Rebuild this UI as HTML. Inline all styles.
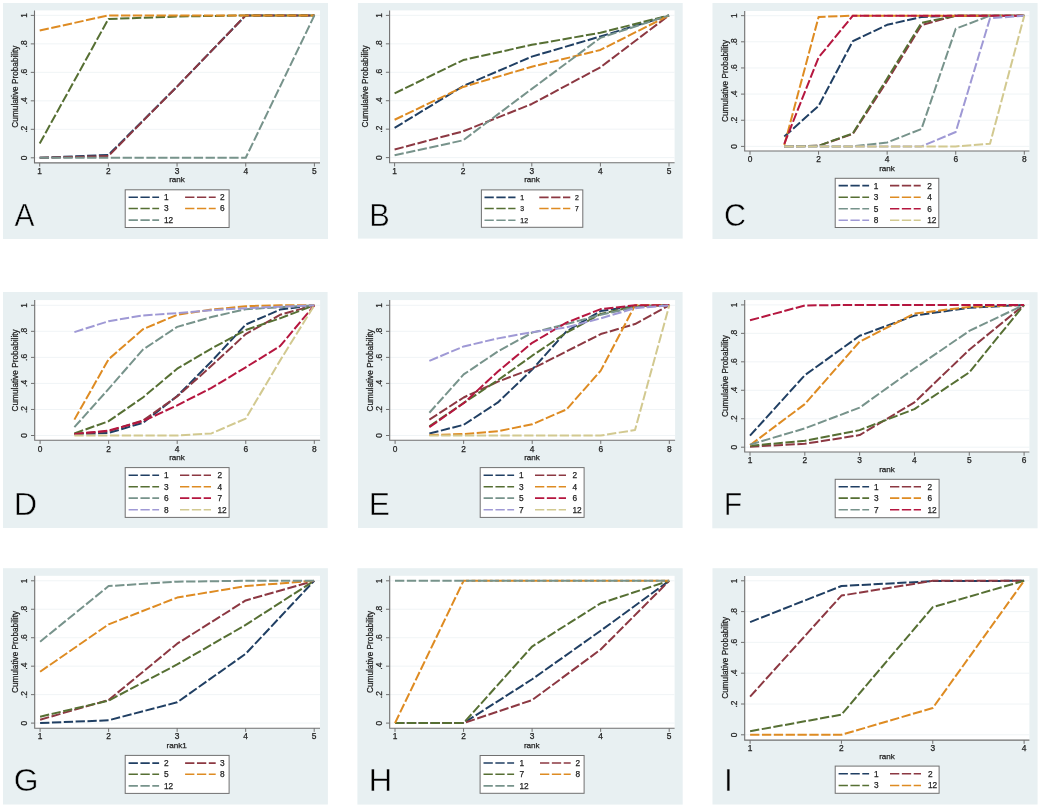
<!DOCTYPE html>
<html><head><meta charset="utf-8"><title>Cumulative ranking plots</title>
<style>
html,body{margin:0;padding:0;background:#fff;}
svg{display:block;filter:blur(0.55px);}
text{font-family:"Liberation Sans", sans-serif;stroke:#1e1e1e;stroke-width:0.25px;}
</style></head>
<body>
<svg width="1040" height="807" viewBox="0 0 1040 807">
<rect width="1040" height="807" fill="#fff"/>
<rect x="3" y="3" width="325.00" height="236.00" fill="#E8F0F2"/>
<rect x="34.5" y="10.4" width="285.50" height="152.50" fill="#fff"/>
<line x1="34.5" y1="157.80" x2="320" y2="157.80" stroke="#EEF3F5" stroke-width="0.9"/>
<line x1="34.5" y1="129.32" x2="320" y2="129.32" stroke="#EEF3F5" stroke-width="0.9"/>
<line x1="34.5" y1="100.84" x2="320" y2="100.84" stroke="#EEF3F5" stroke-width="0.9"/>
<line x1="34.5" y1="72.36" x2="320" y2="72.36" stroke="#EEF3F5" stroke-width="0.9"/>
<line x1="34.5" y1="43.88" x2="320" y2="43.88" stroke="#EEF3F5" stroke-width="0.9"/>
<line x1="34.5" y1="15.40" x2="320" y2="15.40" stroke="#EEF3F5" stroke-width="0.9"/>
<polyline points="39.70,157.80 108.38,154.95 177.05,86.60 245.72,15.40 314.40,15.40" fill="none" stroke="#203F63" stroke-width="2.0" stroke-dasharray="9.3 2.55" stroke-linejoin="round"/>
<polyline points="39.70,157.80 108.38,156.09 177.05,86.60 245.72,15.40 314.40,15.40" fill="none" stroke="#8C3842" stroke-width="2.0" stroke-dasharray="9.3 2.55" stroke-linejoin="round"/>
<polyline points="39.70,143.56 108.38,18.96 177.05,16.54 245.72,15.40 314.40,15.40" fill="none" stroke="#566F33" stroke-width="2.0" stroke-dasharray="9.3 2.55" stroke-linejoin="round"/>
<polyline points="39.70,30.49 108.38,15.40 177.05,15.40 245.72,15.40 314.40,15.40" fill="none" stroke="#DE8B22" stroke-width="2.0" stroke-dasharray="9.3 2.55" stroke-linejoin="round"/>
<polyline points="39.70,157.80 108.38,157.80 177.05,157.80 245.72,157.80 314.40,15.40" fill="none" stroke="#77938B" stroke-width="2.0" stroke-dasharray="9.3 2.55" stroke-linejoin="round"/>
<path d="M34.5,10.4 V162.9 H320" fill="none" stroke="#707070" stroke-width="1.1"/>
<line x1="30.8" y1="157.80" x2="34.5" y2="157.80" stroke="#707070" stroke-width="1"/>
<text transform="translate(27.10,157.80) rotate(-90)" text-anchor="middle" font-size="8.4" fill="#1e1e1e">0</text>
<line x1="30.8" y1="129.32" x2="34.5" y2="129.32" stroke="#707070" stroke-width="1"/>
<text transform="translate(27.10,129.32) rotate(-90)" text-anchor="middle" font-size="8.4" fill="#1e1e1e">.2</text>
<line x1="30.8" y1="100.84" x2="34.5" y2="100.84" stroke="#707070" stroke-width="1"/>
<text transform="translate(27.10,100.84) rotate(-90)" text-anchor="middle" font-size="8.4" fill="#1e1e1e">.4</text>
<line x1="30.8" y1="72.36" x2="34.5" y2="72.36" stroke="#707070" stroke-width="1"/>
<text transform="translate(27.10,72.36) rotate(-90)" text-anchor="middle" font-size="8.4" fill="#1e1e1e">.6</text>
<line x1="30.8" y1="43.88" x2="34.5" y2="43.88" stroke="#707070" stroke-width="1"/>
<text transform="translate(27.10,43.88) rotate(-90)" text-anchor="middle" font-size="8.4" fill="#1e1e1e">.8</text>
<line x1="30.8" y1="15.40" x2="34.5" y2="15.40" stroke="#707070" stroke-width="1"/>
<text transform="translate(27.10,15.40) rotate(-90)" text-anchor="middle" font-size="8.4" fill="#1e1e1e">1</text>
<line x1="39.70" y1="162.9" x2="39.70" y2="166.6" stroke="#707070" stroke-width="1"/>
<text x="39.70" y="173.8" text-anchor="middle" font-size="8.4" fill="#1e1e1e">1</text>
<line x1="108.38" y1="162.9" x2="108.38" y2="166.6" stroke="#707070" stroke-width="1"/>
<text x="108.38" y="173.8" text-anchor="middle" font-size="8.4" fill="#1e1e1e">2</text>
<line x1="177.05" y1="162.9" x2="177.05" y2="166.6" stroke="#707070" stroke-width="1"/>
<text x="177.05" y="173.8" text-anchor="middle" font-size="8.4" fill="#1e1e1e">3</text>
<line x1="245.72" y1="162.9" x2="245.72" y2="166.6" stroke="#707070" stroke-width="1"/>
<text x="245.72" y="173.8" text-anchor="middle" font-size="8.4" fill="#1e1e1e">4</text>
<line x1="314.40" y1="162.9" x2="314.40" y2="166.6" stroke="#707070" stroke-width="1"/>
<text x="314.40" y="173.8" text-anchor="middle" font-size="8.4" fill="#1e1e1e">5</text>
<text transform="translate(17.70,86.60) rotate(-90)" text-anchor="middle" font-size="8.25" fill="#1e1e1e">Cumulative Probability</text>
<text x="177" y="182.20" text-anchor="middle" font-size="8.1" fill="#1e1e1e">rank</text>
<rect x="125.2" y="189.8" width="103.90" height="37.70" fill="#fff" stroke="#707070" stroke-width="1"/>
<line x1="128.6" y1="197.2" x2="159.1" y2="197.2" stroke="#203F63" stroke-width="1.6" stroke-dasharray="9.3 2.55"/>
<text x="164.0" y="200.10" font-size="8.3" fill="#1e1e1e">1</text>
<line x1="185.1" y1="197.2" x2="215.7" y2="197.2" stroke="#8C3842" stroke-width="1.6" stroke-dasharray="9.3 2.55"/>
<text x="220.0" y="200.10" font-size="8.3" fill="#1e1e1e">2</text>
<line x1="128.6" y1="208.5" x2="159.1" y2="208.5" stroke="#566F33" stroke-width="1.6" stroke-dasharray="9.3 2.55"/>
<text x="164.0" y="211.41" font-size="8.3" fill="#1e1e1e">3</text>
<line x1="185.1" y1="208.5" x2="215.7" y2="208.5" stroke="#DE8B22" stroke-width="1.6" stroke-dasharray="9.3 2.55"/>
<text x="220.0" y="211.41" font-size="8.3" fill="#1e1e1e">6</text>
<line x1="128.6" y1="220.1" x2="159.1" y2="220.1" stroke="#77938B" stroke-width="1.6" stroke-dasharray="9.3 2.55"/>
<text x="164.0" y="223.00" font-size="8.3" fill="#1e1e1e">12</text>
<text transform="translate(14.45,226) scale(0.94,1)" font-size="31.8" fill="#000" style="stroke:#E8F0F2;stroke-width:0.5px">A</text>
<rect x="357.9" y="3" width="324.80" height="235.60" fill="#E8F0F2"/>
<rect x="389.6" y="10.4" width="285.00" height="152.40" fill="#fff"/>
<line x1="389.6" y1="157.60" x2="674.6" y2="157.60" stroke="#EEF3F5" stroke-width="0.9"/>
<line x1="389.6" y1="129.16" x2="674.6" y2="129.16" stroke="#EEF3F5" stroke-width="0.9"/>
<line x1="389.6" y1="100.72" x2="674.6" y2="100.72" stroke="#EEF3F5" stroke-width="0.9"/>
<line x1="389.6" y1="72.28" x2="674.6" y2="72.28" stroke="#EEF3F5" stroke-width="0.9"/>
<line x1="389.6" y1="43.84" x2="674.6" y2="43.84" stroke="#EEF3F5" stroke-width="0.9"/>
<line x1="389.6" y1="15.40" x2="674.6" y2="15.40" stroke="#EEF3F5" stroke-width="0.9"/>
<polyline points="394.60,127.88 463.20,86.07 531.80,56.64 600.40,36.45 669.00,15.40" fill="none" stroke="#203F63" stroke-width="2.0" stroke-dasharray="9.3 2.55" stroke-linejoin="round"/>
<polyline points="394.60,149.49 463.20,131.29 531.80,103.99 600.40,67.30 669.00,15.40" fill="none" stroke="#8C3842" stroke-width="2.0" stroke-dasharray="9.3 2.55" stroke-linejoin="round"/>
<polyline points="394.60,93.33 463.20,60.05 531.80,44.84 600.40,32.75 669.00,15.40" fill="none" stroke="#566F33" stroke-width="2.0" stroke-dasharray="9.3 2.55" stroke-linejoin="round"/>
<polyline points="394.60,119.77 463.20,86.93 531.80,66.73 600.40,49.95 669.00,15.40" fill="none" stroke="#DE8B22" stroke-width="2.0" stroke-dasharray="9.3 2.55" stroke-linejoin="round"/>
<polyline points="394.60,155.32 463.20,140.25 531.80,88.92 600.40,37.87 669.00,15.40" fill="none" stroke="#77938B" stroke-width="2.0" stroke-dasharray="9.3 2.55" stroke-linejoin="round"/>
<path d="M389.6,10.4 V162.8 H674.6" fill="none" stroke="#707070" stroke-width="1.1"/>
<line x1="385.90000000000003" y1="157.60" x2="389.6" y2="157.60" stroke="#707070" stroke-width="1"/>
<text transform="translate(382.00,157.60) rotate(-90)" text-anchor="middle" font-size="8.4" fill="#1e1e1e">0</text>
<line x1="385.90000000000003" y1="129.16" x2="389.6" y2="129.16" stroke="#707070" stroke-width="1"/>
<text transform="translate(382.00,129.16) rotate(-90)" text-anchor="middle" font-size="8.4" fill="#1e1e1e">.2</text>
<line x1="385.90000000000003" y1="100.72" x2="389.6" y2="100.72" stroke="#707070" stroke-width="1"/>
<text transform="translate(382.00,100.72) rotate(-90)" text-anchor="middle" font-size="8.4" fill="#1e1e1e">.4</text>
<line x1="385.90000000000003" y1="72.28" x2="389.6" y2="72.28" stroke="#707070" stroke-width="1"/>
<text transform="translate(382.00,72.28) rotate(-90)" text-anchor="middle" font-size="8.4" fill="#1e1e1e">.6</text>
<line x1="385.90000000000003" y1="43.84" x2="389.6" y2="43.84" stroke="#707070" stroke-width="1"/>
<text transform="translate(382.00,43.84) rotate(-90)" text-anchor="middle" font-size="8.4" fill="#1e1e1e">.8</text>
<line x1="385.90000000000003" y1="15.40" x2="389.6" y2="15.40" stroke="#707070" stroke-width="1"/>
<text transform="translate(382.00,15.40) rotate(-90)" text-anchor="middle" font-size="8.4" fill="#1e1e1e">1</text>
<line x1="394.60" y1="162.8" x2="394.60" y2="166.5" stroke="#707070" stroke-width="1"/>
<text x="394.60" y="173.6" text-anchor="middle" font-size="8.4" fill="#1e1e1e">1</text>
<line x1="463.20" y1="162.8" x2="463.20" y2="166.5" stroke="#707070" stroke-width="1"/>
<text x="463.20" y="173.6" text-anchor="middle" font-size="8.4" fill="#1e1e1e">2</text>
<line x1="531.80" y1="162.8" x2="531.80" y2="166.5" stroke="#707070" stroke-width="1"/>
<text x="531.80" y="173.6" text-anchor="middle" font-size="8.4" fill="#1e1e1e">3</text>
<line x1="600.40" y1="162.8" x2="600.40" y2="166.5" stroke="#707070" stroke-width="1"/>
<text x="600.40" y="173.6" text-anchor="middle" font-size="8.4" fill="#1e1e1e">4</text>
<line x1="669.00" y1="162.8" x2="669.00" y2="166.5" stroke="#707070" stroke-width="1"/>
<text x="669.00" y="173.6" text-anchor="middle" font-size="8.4" fill="#1e1e1e">5</text>
<text transform="translate(368.40,86.50) rotate(-90)" text-anchor="middle" font-size="8.25" fill="#1e1e1e">Cumulative Probability</text>
<text x="532" y="182.30" text-anchor="middle" font-size="8.1" fill="#1e1e1e">rank</text>
<rect x="481.4" y="189.9" width="101.40" height="37.40" fill="#fff" stroke="#707070" stroke-width="1"/>
<line x1="484.5" y1="197.4" x2="515.5" y2="197.4" stroke="#203F63" stroke-width="1.6" stroke-dasharray="9.3 2.55"/>
<text x="520.3" y="199.81" font-size="6.9" fill="#1e1e1e">1</text>
<line x1="539.3" y1="197.4" x2="570.3" y2="197.4" stroke="#8C3842" stroke-width="1.6" stroke-dasharray="9.3 2.55"/>
<text x="575.0" y="199.81" font-size="6.9" fill="#1e1e1e">2</text>
<line x1="484.5" y1="208.5" x2="515.5" y2="208.5" stroke="#566F33" stroke-width="1.6" stroke-dasharray="9.3 2.55"/>
<text x="520.3" y="210.91" font-size="6.9" fill="#1e1e1e">3</text>
<line x1="539.3" y1="208.5" x2="570.3" y2="208.5" stroke="#DE8B22" stroke-width="1.6" stroke-dasharray="9.3 2.55"/>
<text x="575.0" y="210.91" font-size="6.9" fill="#1e1e1e">7</text>
<line x1="484.5" y1="220.2" x2="515.5" y2="220.2" stroke="#77938B" stroke-width="1.6" stroke-dasharray="9.3 2.55"/>
<text x="520.3" y="222.61" font-size="6.9" fill="#1e1e1e">12</text>
<text transform="translate(369.23,226) scale(0.97,1)" font-size="31.8" fill="#000" style="stroke:#E8F0F2;stroke-width:0.5px">B</text>
<rect x="712.5" y="3" width="325.10" height="236.00" fill="#E8F0F2"/>
<rect x="744.7" y="11" width="284.70" height="140.00" fill="#fff"/>
<line x1="744.7" y1="146.40" x2="1029.4" y2="146.40" stroke="#EEF3F5" stroke-width="0.9"/>
<line x1="744.7" y1="120.25" x2="1029.4" y2="120.25" stroke="#EEF3F5" stroke-width="0.9"/>
<line x1="744.7" y1="94.10" x2="1029.4" y2="94.10" stroke="#EEF3F5" stroke-width="0.9"/>
<line x1="744.7" y1="67.95" x2="1029.4" y2="67.95" stroke="#EEF3F5" stroke-width="0.9"/>
<line x1="744.7" y1="41.80" x2="1029.4" y2="41.80" stroke="#EEF3F5" stroke-width="0.9"/>
<line x1="744.7" y1="15.65" x2="1029.4" y2="15.65" stroke="#EEF3F5" stroke-width="0.9"/>
<polyline points="784.29,136.59 818.58,105.87 852.86,41.15 887.15,24.80 921.44,16.96 955.72,15.65 990.01,15.65 1024.30,15.65" fill="none" stroke="#203F63" stroke-width="2.0" stroke-dasharray="9.3 2.55" stroke-linejoin="round"/>
<polyline points="784.29,146.40 818.58,145.75 852.86,133.98 887.15,81.03 921.44,25.19 955.72,15.65 990.01,15.65 1024.30,15.65" fill="none" stroke="#8C3842" stroke-width="2.0" stroke-dasharray="9.3 2.55" stroke-linejoin="round"/>
<polyline points="784.29,146.40 818.58,145.75 852.86,133.33 887.15,78.41 921.44,22.84 955.72,15.65 990.01,15.65 1024.30,15.65" fill="none" stroke="#566F33" stroke-width="2.0" stroke-dasharray="9.3 2.55" stroke-linejoin="round"/>
<polyline points="784.29,145.09 818.58,16.96 852.86,15.65 887.15,15.65 921.44,15.65 955.72,15.65 990.01,15.65 1024.30,15.65" fill="none" stroke="#DE8B22" stroke-width="2.0" stroke-dasharray="9.3 2.55" stroke-linejoin="round"/>
<polyline points="784.29,146.40 818.58,146.40 852.86,146.40 887.15,142.48 921.44,129.01 955.72,28.73 990.01,15.65 1024.30,15.65" fill="none" stroke="#77938B" stroke-width="2.0" stroke-dasharray="9.3 2.55" stroke-linejoin="round"/>
<polyline points="784.29,143.78 818.58,57.49 852.86,15.65 887.15,15.65 921.44,15.65 955.72,15.65 990.01,15.65 1024.30,15.65" fill="none" stroke="#B5163F" stroke-width="2.0" stroke-dasharray="9.3 2.55" stroke-linejoin="round"/>
<polyline points="784.29,146.40 818.58,146.40 852.86,146.40 887.15,146.40 921.44,146.40 955.72,132.02 990.01,18.27 1024.30,15.65" fill="none" stroke="#9F99D5" stroke-width="2.0" stroke-dasharray="9.3 2.55" stroke-linejoin="round"/>
<polyline points="784.29,146.40 818.58,146.40 852.86,146.40 887.15,146.40 921.44,146.40 955.72,146.40 990.01,143.78 1024.30,15.65" fill="none" stroke="#D2C990" stroke-width="2.0" stroke-dasharray="9.3 2.55" stroke-linejoin="round"/>
<path d="M744.7,11 V151 H1029.4" fill="none" stroke="#707070" stroke-width="1.1"/>
<line x1="741.0" y1="146.40" x2="744.7" y2="146.40" stroke="#707070" stroke-width="1"/>
<text transform="translate(736.60,146.40) rotate(-90)" text-anchor="middle" font-size="8.4" fill="#1e1e1e">0</text>
<line x1="741.0" y1="120.25" x2="744.7" y2="120.25" stroke="#707070" stroke-width="1"/>
<text transform="translate(736.60,120.25) rotate(-90)" text-anchor="middle" font-size="8.4" fill="#1e1e1e">.2</text>
<line x1="741.0" y1="94.10" x2="744.7" y2="94.10" stroke="#707070" stroke-width="1"/>
<text transform="translate(736.60,94.10) rotate(-90)" text-anchor="middle" font-size="8.4" fill="#1e1e1e">.4</text>
<line x1="741.0" y1="67.95" x2="744.7" y2="67.95" stroke="#707070" stroke-width="1"/>
<text transform="translate(736.60,67.95) rotate(-90)" text-anchor="middle" font-size="8.4" fill="#1e1e1e">.6</text>
<line x1="741.0" y1="41.80" x2="744.7" y2="41.80" stroke="#707070" stroke-width="1"/>
<text transform="translate(736.60,41.80) rotate(-90)" text-anchor="middle" font-size="8.4" fill="#1e1e1e">.8</text>
<line x1="741.0" y1="15.65" x2="744.7" y2="15.65" stroke="#707070" stroke-width="1"/>
<text transform="translate(736.60,15.65) rotate(-90)" text-anchor="middle" font-size="8.4" fill="#1e1e1e">1</text>
<line x1="750.00" y1="151" x2="750.00" y2="154.7" stroke="#707070" stroke-width="1"/>
<text x="750.00" y="162.2" text-anchor="middle" font-size="8.4" fill="#1e1e1e">0</text>
<line x1="818.58" y1="151" x2="818.58" y2="154.7" stroke="#707070" stroke-width="1"/>
<text x="818.58" y="162.2" text-anchor="middle" font-size="8.4" fill="#1e1e1e">2</text>
<line x1="887.15" y1="151" x2="887.15" y2="154.7" stroke="#707070" stroke-width="1"/>
<text x="887.15" y="162.2" text-anchor="middle" font-size="8.4" fill="#1e1e1e">4</text>
<line x1="955.72" y1="151" x2="955.72" y2="154.7" stroke="#707070" stroke-width="1"/>
<text x="955.72" y="162.2" text-anchor="middle" font-size="8.4" fill="#1e1e1e">6</text>
<line x1="1024.30" y1="151" x2="1024.30" y2="154.7" stroke="#707070" stroke-width="1"/>
<text x="1024.30" y="162.2" text-anchor="middle" font-size="8.4" fill="#1e1e1e">8</text>
<text transform="translate(728.00,81.03) rotate(-90)" text-anchor="middle" font-size="8.25" fill="#1e1e1e">Cumulative Probability</text>
<text x="887" y="170.90" text-anchor="middle" font-size="8.1" fill="#1e1e1e">rank</text>
<rect x="835.2" y="178.3" width="103.60" height="49.20" fill="#fff" stroke="#707070" stroke-width="1"/>
<line x1="838.6" y1="185.6" x2="869.1" y2="185.6" stroke="#203F63" stroke-width="1.6" stroke-dasharray="9.3 2.55"/>
<text x="873.8" y="188.50" font-size="8.3" fill="#1e1e1e">1</text>
<line x1="890" y1="185.6" x2="920.7" y2="185.6" stroke="#8C3842" stroke-width="1.6" stroke-dasharray="9.3 2.55"/>
<text x="927.2" y="188.50" font-size="8.3" fill="#1e1e1e">2</text>
<line x1="838.6" y1="197.3" x2="869.1" y2="197.3" stroke="#566F33" stroke-width="1.6" stroke-dasharray="9.3 2.55"/>
<text x="873.8" y="200.21" font-size="8.3" fill="#1e1e1e">3</text>
<line x1="890" y1="197.3" x2="920.7" y2="197.3" stroke="#DE8B22" stroke-width="1.6" stroke-dasharray="9.3 2.55"/>
<text x="927.2" y="200.21" font-size="8.3" fill="#1e1e1e">4</text>
<line x1="838.6" y1="208.7" x2="869.1" y2="208.7" stroke="#77938B" stroke-width="1.6" stroke-dasharray="9.3 2.55"/>
<text x="873.8" y="211.60" font-size="8.3" fill="#1e1e1e">5</text>
<line x1="890" y1="208.7" x2="920.7" y2="208.7" stroke="#B5163F" stroke-width="1.6" stroke-dasharray="9.3 2.55"/>
<text x="927.2" y="211.60" font-size="8.3" fill="#1e1e1e">6</text>
<line x1="838.6" y1="220.3" x2="869.1" y2="220.3" stroke="#9F99D5" stroke-width="1.6" stroke-dasharray="9.3 2.55"/>
<text x="873.8" y="223.21" font-size="8.3" fill="#1e1e1e">8</text>
<line x1="890" y1="220.3" x2="920.7" y2="220.3" stroke="#D2C990" stroke-width="1.6" stroke-dasharray="9.3 2.55"/>
<text x="927.2" y="223.21" font-size="8.3" fill="#1e1e1e">12</text>
<text transform="translate(723.97,225.8) scale(0.96,1)" font-size="31.8" fill="#000" style="stroke:#E8F0F2;stroke-width:0.5px">C</text>
<rect x="3" y="292" width="324.60" height="236.00" fill="#E8F0F2"/>
<rect x="34.7" y="300.1" width="285.40" height="140.10" fill="#fff"/>
<line x1="34.7" y1="435.50" x2="320.1" y2="435.50" stroke="#EEF3F5" stroke-width="0.9"/>
<line x1="34.7" y1="409.46" x2="320.1" y2="409.46" stroke="#EEF3F5" stroke-width="0.9"/>
<line x1="34.7" y1="383.42" x2="320.1" y2="383.42" stroke="#EEF3F5" stroke-width="0.9"/>
<line x1="34.7" y1="357.38" x2="320.1" y2="357.38" stroke="#EEF3F5" stroke-width="0.9"/>
<line x1="34.7" y1="331.34" x2="320.1" y2="331.34" stroke="#EEF3F5" stroke-width="0.9"/>
<line x1="34.7" y1="305.30" x2="320.1" y2="305.30" stroke="#EEF3F5" stroke-width="0.9"/>
<polyline points="74.38,434.20 108.65,432.90 142.92,422.87 177.20,396.05 211.47,361.42 245.75,324.57 280.02,309.60 314.30,305.30" fill="none" stroke="#203F63" stroke-width="2.0" stroke-dasharray="9.3 2.55" stroke-linejoin="round"/>
<polyline points="74.38,433.81 108.65,431.20 142.92,420.53 177.20,396.44 211.47,365.84 245.75,334.07 280.02,314.80 314.30,305.30" fill="none" stroke="#8C3842" stroke-width="2.0" stroke-dasharray="9.3 2.55" stroke-linejoin="round"/>
<polyline points="74.38,433.42 108.65,421.18 142.92,397.48 177.20,368.71 211.47,348.53 245.75,330.04 280.02,318.32 314.30,305.30" fill="none" stroke="#566F33" stroke-width="2.0" stroke-dasharray="9.3 2.55" stroke-linejoin="round"/>
<polyline points="74.38,419.62 108.65,359.20 142.92,329.26 177.20,314.80 211.47,309.60 245.75,306.21 280.02,305.30 314.30,305.30" fill="none" stroke="#DE8B22" stroke-width="2.0" stroke-dasharray="9.3 2.55" stroke-linejoin="round"/>
<polyline points="74.38,427.17 108.65,388.89 142.92,349.57 177.20,326.91 211.47,317.02 245.75,309.21 280.02,307.25 314.30,305.30" fill="none" stroke="#77938B" stroke-width="2.0" stroke-dasharray="9.3 2.55" stroke-linejoin="round"/>
<polyline points="74.38,434.07 108.65,430.55 142.92,421.18 177.20,405.29 211.47,387.98 245.75,367.28 280.02,346.18 314.30,305.30" fill="none" stroke="#B5163F" stroke-width="2.0" stroke-dasharray="9.3 2.55" stroke-linejoin="round"/>
<polyline points="74.38,332.12 108.65,321.18 142.92,315.46 177.20,313.11 211.47,310.25 245.75,308.16 280.02,306.73 314.30,305.30" fill="none" stroke="#9F99D5" stroke-width="2.0" stroke-dasharray="9.3 2.55" stroke-linejoin="round"/>
<polyline points="74.38,435.50 108.65,435.50 142.92,435.50 177.20,435.50 211.47,433.42 245.75,418.57 280.02,360.63 314.30,305.30" fill="none" stroke="#D2C990" stroke-width="2.0" stroke-dasharray="9.3 2.55" stroke-linejoin="round"/>
<path d="M34.7,300.1 V440.2 H320.1" fill="none" stroke="#707070" stroke-width="1.1"/>
<line x1="31.000000000000004" y1="435.50" x2="34.7" y2="435.50" stroke="#707070" stroke-width="1"/>
<text transform="translate(27.30,435.50) rotate(-90)" text-anchor="middle" font-size="8.4" fill="#1e1e1e">0</text>
<line x1="31.000000000000004" y1="409.46" x2="34.7" y2="409.46" stroke="#707070" stroke-width="1"/>
<text transform="translate(27.30,409.46) rotate(-90)" text-anchor="middle" font-size="8.4" fill="#1e1e1e">.2</text>
<line x1="31.000000000000004" y1="383.42" x2="34.7" y2="383.42" stroke="#707070" stroke-width="1"/>
<text transform="translate(27.30,383.42) rotate(-90)" text-anchor="middle" font-size="8.4" fill="#1e1e1e">.4</text>
<line x1="31.000000000000004" y1="357.38" x2="34.7" y2="357.38" stroke="#707070" stroke-width="1"/>
<text transform="translate(27.30,357.38) rotate(-90)" text-anchor="middle" font-size="8.4" fill="#1e1e1e">.6</text>
<line x1="31.000000000000004" y1="331.34" x2="34.7" y2="331.34" stroke="#707070" stroke-width="1"/>
<text transform="translate(27.30,331.34) rotate(-90)" text-anchor="middle" font-size="8.4" fill="#1e1e1e">.8</text>
<line x1="31.000000000000004" y1="305.30" x2="34.7" y2="305.30" stroke="#707070" stroke-width="1"/>
<text transform="translate(27.30,305.30) rotate(-90)" text-anchor="middle" font-size="8.4" fill="#1e1e1e">1</text>
<line x1="40.10" y1="440.2" x2="40.10" y2="443.9" stroke="#707070" stroke-width="1"/>
<text x="40.10" y="452" text-anchor="middle" font-size="8.4" fill="#1e1e1e">0</text>
<line x1="108.65" y1="440.2" x2="108.65" y2="443.9" stroke="#707070" stroke-width="1"/>
<text x="108.65" y="452" text-anchor="middle" font-size="8.4" fill="#1e1e1e">2</text>
<line x1="177.20" y1="440.2" x2="177.20" y2="443.9" stroke="#707070" stroke-width="1"/>
<text x="177.20" y="452" text-anchor="middle" font-size="8.4" fill="#1e1e1e">4</text>
<line x1="245.75" y1="440.2" x2="245.75" y2="443.9" stroke="#707070" stroke-width="1"/>
<text x="245.75" y="452" text-anchor="middle" font-size="8.4" fill="#1e1e1e">6</text>
<line x1="314.30" y1="440.2" x2="314.30" y2="443.9" stroke="#707070" stroke-width="1"/>
<text x="314.30" y="452" text-anchor="middle" font-size="8.4" fill="#1e1e1e">8</text>
<text transform="translate(17.70,370.40) rotate(-90)" text-anchor="middle" font-size="8.25" fill="#1e1e1e">Cumulative Probability</text>
<text x="177" y="460.40" text-anchor="middle" font-size="8.1" fill="#1e1e1e">rank</text>
<rect x="125.2" y="467.6" width="103.90" height="49.80" fill="#fff" stroke="#707070" stroke-width="1"/>
<line x1="128.6" y1="475.3" x2="159.1" y2="475.3" stroke="#203F63" stroke-width="1.6" stroke-dasharray="9.3 2.55"/>
<text x="164.0" y="478.20" font-size="8.3" fill="#1e1e1e">1</text>
<line x1="180" y1="475.3" x2="211" y2="475.3" stroke="#8C3842" stroke-width="1.6" stroke-dasharray="9.3 2.55"/>
<text x="217.5" y="478.20" font-size="8.3" fill="#1e1e1e">2</text>
<line x1="128.6" y1="486.8" x2="159.1" y2="486.8" stroke="#566F33" stroke-width="1.6" stroke-dasharray="9.3 2.55"/>
<text x="164.0" y="489.70" font-size="8.3" fill="#1e1e1e">3</text>
<line x1="180" y1="486.8" x2="211" y2="486.8" stroke="#DE8B22" stroke-width="1.6" stroke-dasharray="9.3 2.55"/>
<text x="217.5" y="489.70" font-size="8.3" fill="#1e1e1e">4</text>
<line x1="128.6" y1="498.1" x2="159.1" y2="498.1" stroke="#77938B" stroke-width="1.6" stroke-dasharray="9.3 2.55"/>
<text x="164.0" y="501.00" font-size="8.3" fill="#1e1e1e">6</text>
<line x1="180" y1="498.1" x2="211" y2="498.1" stroke="#B5163F" stroke-width="1.6" stroke-dasharray="9.3 2.55"/>
<text x="217.5" y="501.00" font-size="8.3" fill="#1e1e1e">7</text>
<line x1="128.6" y1="509.7" x2="159.1" y2="509.7" stroke="#9F99D5" stroke-width="1.6" stroke-dasharray="9.3 2.55"/>
<text x="164.0" y="512.61" font-size="8.3" fill="#1e1e1e">8</text>
<line x1="180" y1="509.7" x2="211" y2="509.7" stroke="#D2C990" stroke-width="1.6" stroke-dasharray="9.3 2.55"/>
<text x="217.5" y="512.61" font-size="8.3" fill="#1e1e1e">12</text>
<text transform="translate(13.81,514.8) scale(1.02,1)" font-size="31.8" fill="#000" style="stroke:#E8F0F2;stroke-width:0.5px">D</text>
<rect x="358" y="292" width="324.60" height="236.00" fill="#E8F0F2"/>
<rect x="389.7" y="300.1" width="285.40" height="140.10" fill="#fff"/>
<line x1="389.7" y1="435.50" x2="675.1" y2="435.50" stroke="#EEF3F5" stroke-width="0.9"/>
<line x1="389.7" y1="409.46" x2="675.1" y2="409.46" stroke="#EEF3F5" stroke-width="0.9"/>
<line x1="389.7" y1="383.42" x2="675.1" y2="383.42" stroke="#EEF3F5" stroke-width="0.9"/>
<line x1="389.7" y1="357.38" x2="675.1" y2="357.38" stroke="#EEF3F5" stroke-width="0.9"/>
<line x1="389.7" y1="331.34" x2="675.1" y2="331.34" stroke="#EEF3F5" stroke-width="0.9"/>
<line x1="389.7" y1="305.30" x2="675.1" y2="305.30" stroke="#EEF3F5" stroke-width="0.9"/>
<polyline points="429.38,433.55 463.65,424.82 497.93,402.43 532.20,369.49 566.47,331.34 600.75,311.03 635.02,306.21 669.30,305.30" fill="none" stroke="#203F63" stroke-width="2.0" stroke-dasharray="9.3 2.55" stroke-linejoin="round"/>
<polyline points="429.38,419.62 463.65,397.48 497.93,381.60 532.20,368.71 566.47,351.39 600.75,334.07 635.02,324.05 669.30,305.30" fill="none" stroke="#8C3842" stroke-width="2.0" stroke-dasharray="9.3 2.55" stroke-linejoin="round"/>
<polyline points="429.38,426.39 463.65,402.95 497.93,380.17 532.20,355.69 566.47,332.64 600.75,313.89 635.02,306.21 669.30,305.30" fill="none" stroke="#566F33" stroke-width="2.0" stroke-dasharray="9.3 2.55" stroke-linejoin="round"/>
<polyline points="429.38,434.98 463.65,434.07 497.93,431.20 532.20,424.30 566.47,409.46 600.75,370.66 635.02,305.30 669.30,305.30" fill="none" stroke="#DE8B22" stroke-width="2.0" stroke-dasharray="9.3 2.55" stroke-linejoin="round"/>
<polyline points="429.38,412.72 463.65,374.44 497.93,351.39 532.20,332.64 566.47,324.05 600.75,314.80 635.02,307.25 669.30,305.30" fill="none" stroke="#77938B" stroke-width="2.0" stroke-dasharray="9.3 2.55" stroke-linejoin="round"/>
<polyline points="429.38,427.17 463.65,403.21 497.93,371.57 532.20,342.80 566.47,322.62 600.75,309.08 635.02,305.30 669.30,305.30" fill="none" stroke="#B5163F" stroke-width="2.0" stroke-dasharray="9.3 2.55" stroke-linejoin="round"/>
<polyline points="429.38,360.90 463.65,346.44 497.93,338.37 532.20,332.12 566.47,327.43 600.75,318.32 635.02,308.16 669.30,305.30" fill="none" stroke="#9F99D5" stroke-width="2.0" stroke-dasharray="9.3 2.55" stroke-linejoin="round"/>
<polyline points="429.38,435.50 463.65,435.50 497.93,435.50 532.20,435.50 566.47,435.50 600.75,435.50 635.02,430.03 669.30,305.30" fill="none" stroke="#D2C990" stroke-width="2.0" stroke-dasharray="9.3 2.55" stroke-linejoin="round"/>
<path d="M389.7,300.1 V440.2 H675.1" fill="none" stroke="#707070" stroke-width="1.1"/>
<line x1="386.0" y1="435.50" x2="389.7" y2="435.50" stroke="#707070" stroke-width="1"/>
<text transform="translate(382.30,435.50) rotate(-90)" text-anchor="middle" font-size="8.4" fill="#1e1e1e">0</text>
<line x1="386.0" y1="409.46" x2="389.7" y2="409.46" stroke="#707070" stroke-width="1"/>
<text transform="translate(382.30,409.46) rotate(-90)" text-anchor="middle" font-size="8.4" fill="#1e1e1e">.2</text>
<line x1="386.0" y1="383.42" x2="389.7" y2="383.42" stroke="#707070" stroke-width="1"/>
<text transform="translate(382.30,383.42) rotate(-90)" text-anchor="middle" font-size="8.4" fill="#1e1e1e">.4</text>
<line x1="386.0" y1="357.38" x2="389.7" y2="357.38" stroke="#707070" stroke-width="1"/>
<text transform="translate(382.30,357.38) rotate(-90)" text-anchor="middle" font-size="8.4" fill="#1e1e1e">.6</text>
<line x1="386.0" y1="331.34" x2="389.7" y2="331.34" stroke="#707070" stroke-width="1"/>
<text transform="translate(382.30,331.34) rotate(-90)" text-anchor="middle" font-size="8.4" fill="#1e1e1e">.8</text>
<line x1="386.0" y1="305.30" x2="389.7" y2="305.30" stroke="#707070" stroke-width="1"/>
<text transform="translate(382.30,305.30) rotate(-90)" text-anchor="middle" font-size="8.4" fill="#1e1e1e">1</text>
<line x1="395.10" y1="440.2" x2="395.10" y2="443.9" stroke="#707070" stroke-width="1"/>
<text x="395.10" y="452" text-anchor="middle" font-size="8.4" fill="#1e1e1e">0</text>
<line x1="463.65" y1="440.2" x2="463.65" y2="443.9" stroke="#707070" stroke-width="1"/>
<text x="463.65" y="452" text-anchor="middle" font-size="8.4" fill="#1e1e1e">2</text>
<line x1="532.20" y1="440.2" x2="532.20" y2="443.9" stroke="#707070" stroke-width="1"/>
<text x="532.20" y="452" text-anchor="middle" font-size="8.4" fill="#1e1e1e">4</text>
<line x1="600.75" y1="440.2" x2="600.75" y2="443.9" stroke="#707070" stroke-width="1"/>
<text x="600.75" y="452" text-anchor="middle" font-size="8.4" fill="#1e1e1e">6</text>
<line x1="669.30" y1="440.2" x2="669.30" y2="443.9" stroke="#707070" stroke-width="1"/>
<text x="669.30" y="452" text-anchor="middle" font-size="8.4" fill="#1e1e1e">8</text>
<text transform="translate(372.70,370.40) rotate(-90)" text-anchor="middle" font-size="8.25" fill="#1e1e1e">Cumulative Probability</text>
<text x="532" y="460.40" text-anchor="middle" font-size="8.1" fill="#1e1e1e">rank</text>
<rect x="480.2" y="467.6" width="103.90" height="49.80" fill="#fff" stroke="#707070" stroke-width="1"/>
<line x1="483.6" y1="475.3" x2="514.1" y2="475.3" stroke="#203F63" stroke-width="1.6" stroke-dasharray="9.3 2.55"/>
<text x="519.0" y="478.20" font-size="8.3" fill="#1e1e1e">1</text>
<line x1="535" y1="475.3" x2="566" y2="475.3" stroke="#8C3842" stroke-width="1.6" stroke-dasharray="9.3 2.55"/>
<text x="572.5" y="478.20" font-size="8.3" fill="#1e1e1e">2</text>
<line x1="483.6" y1="486.8" x2="514.1" y2="486.8" stroke="#566F33" stroke-width="1.6" stroke-dasharray="9.3 2.55"/>
<text x="519.0" y="489.70" font-size="8.3" fill="#1e1e1e">3</text>
<line x1="535" y1="486.8" x2="566" y2="486.8" stroke="#DE8B22" stroke-width="1.6" stroke-dasharray="9.3 2.55"/>
<text x="572.5" y="489.70" font-size="8.3" fill="#1e1e1e">4</text>
<line x1="483.6" y1="498.1" x2="514.1" y2="498.1" stroke="#77938B" stroke-width="1.6" stroke-dasharray="9.3 2.55"/>
<text x="519.0" y="501.00" font-size="8.3" fill="#1e1e1e">5</text>
<line x1="535" y1="498.1" x2="566" y2="498.1" stroke="#B5163F" stroke-width="1.6" stroke-dasharray="9.3 2.55"/>
<text x="572.5" y="501.00" font-size="8.3" fill="#1e1e1e">6</text>
<line x1="483.6" y1="509.7" x2="514.1" y2="509.7" stroke="#9F99D5" stroke-width="1.6" stroke-dasharray="9.3 2.55"/>
<text x="519.0" y="512.61" font-size="8.3" fill="#1e1e1e">7</text>
<line x1="535" y1="509.7" x2="566" y2="509.7" stroke="#D2C990" stroke-width="1.6" stroke-dasharray="9.3 2.55"/>
<text x="572.5" y="512.61" font-size="8.3" fill="#1e1e1e">12</text>
<text transform="translate(368.86,514.8) scale(1.0,1)" font-size="31.8" fill="#000" style="stroke:#E8F0F2;stroke-width:0.5px">E</text>
<rect x="712.3" y="292.2" width="325.30" height="236.10" fill="#E8F0F2"/>
<rect x="744.7" y="300.1" width="284.70" height="151.90" fill="#fff"/>
<line x1="744.7" y1="447.20" x2="1029.4" y2="447.20" stroke="#EEF3F5" stroke-width="0.9"/>
<line x1="744.7" y1="418.74" x2="1029.4" y2="418.74" stroke="#EEF3F5" stroke-width="0.9"/>
<line x1="744.7" y1="390.28" x2="1029.4" y2="390.28" stroke="#EEF3F5" stroke-width="0.9"/>
<line x1="744.7" y1="361.82" x2="1029.4" y2="361.82" stroke="#EEF3F5" stroke-width="0.9"/>
<line x1="744.7" y1="333.36" x2="1029.4" y2="333.36" stroke="#EEF3F5" stroke-width="0.9"/>
<line x1="744.7" y1="304.90" x2="1029.4" y2="304.90" stroke="#EEF3F5" stroke-width="0.9"/>
<polyline points="750.00,435.67 804.82,375.20 859.64,335.78 914.46,315.57 969.28,307.75 1024.10,304.90" fill="none" stroke="#203F63" stroke-width="2.0" stroke-dasharray="9.3 2.55" stroke-linejoin="round"/>
<polyline points="750.00,446.63 804.82,443.78 859.64,435.10 914.46,402.38 969.28,349.72 1024.10,304.90" fill="none" stroke="#8C3842" stroke-width="2.0" stroke-dasharray="9.3 2.55" stroke-linejoin="round"/>
<polyline points="750.00,445.78 804.82,440.80 859.64,430.12 914.46,409.06 969.28,372.35 1024.10,304.90" fill="none" stroke="#566F33" stroke-width="2.0" stroke-dasharray="9.3 2.55" stroke-linejoin="round"/>
<polyline points="750.00,445.21 804.82,404.08 859.64,341.61 914.46,313.58 969.28,306.89 1024.10,304.90" fill="none" stroke="#DE8B22" stroke-width="2.0" stroke-dasharray="9.3 2.55" stroke-linejoin="round"/>
<polyline points="750.00,444.64 804.82,428.42 859.64,407.64 914.46,368.51 969.28,330.94 1024.10,304.90" fill="none" stroke="#77938B" stroke-width="2.0" stroke-dasharray="9.3 2.55" stroke-linejoin="round"/>
<polyline points="750.00,320.27 804.82,305.47 859.64,304.90 914.46,304.90 969.28,304.90 1024.10,304.90" fill="none" stroke="#B5163F" stroke-width="2.0" stroke-dasharray="9.3 2.55" stroke-linejoin="round"/>
<path d="M744.7,300.1 V452 H1029.4" fill="none" stroke="#707070" stroke-width="1.1"/>
<line x1="741.0" y1="447.20" x2="744.7" y2="447.20" stroke="#707070" stroke-width="1"/>
<text transform="translate(737.30,447.20) rotate(-90)" text-anchor="middle" font-size="8.4" fill="#1e1e1e">0</text>
<line x1="741.0" y1="418.74" x2="744.7" y2="418.74" stroke="#707070" stroke-width="1"/>
<text transform="translate(737.30,418.74) rotate(-90)" text-anchor="middle" font-size="8.4" fill="#1e1e1e">.2</text>
<line x1="741.0" y1="390.28" x2="744.7" y2="390.28" stroke="#707070" stroke-width="1"/>
<text transform="translate(737.30,390.28) rotate(-90)" text-anchor="middle" font-size="8.4" fill="#1e1e1e">.4</text>
<line x1="741.0" y1="361.82" x2="744.7" y2="361.82" stroke="#707070" stroke-width="1"/>
<text transform="translate(737.30,361.82) rotate(-90)" text-anchor="middle" font-size="8.4" fill="#1e1e1e">.6</text>
<line x1="741.0" y1="333.36" x2="744.7" y2="333.36" stroke="#707070" stroke-width="1"/>
<text transform="translate(737.30,333.36) rotate(-90)" text-anchor="middle" font-size="8.4" fill="#1e1e1e">.8</text>
<line x1="741.0" y1="304.90" x2="744.7" y2="304.90" stroke="#707070" stroke-width="1"/>
<text transform="translate(737.30,304.90) rotate(-90)" text-anchor="middle" font-size="8.4" fill="#1e1e1e">1</text>
<line x1="750.00" y1="452" x2="750.00" y2="455.7" stroke="#707070" stroke-width="1"/>
<text x="750.00" y="463.1" text-anchor="middle" font-size="8.4" fill="#1e1e1e">1</text>
<line x1="804.82" y1="452" x2="804.82" y2="455.7" stroke="#707070" stroke-width="1"/>
<text x="804.82" y="463.1" text-anchor="middle" font-size="8.4" fill="#1e1e1e">2</text>
<line x1="859.64" y1="452" x2="859.64" y2="455.7" stroke="#707070" stroke-width="1"/>
<text x="859.64" y="463.1" text-anchor="middle" font-size="8.4" fill="#1e1e1e">3</text>
<line x1="914.46" y1="452" x2="914.46" y2="455.7" stroke="#707070" stroke-width="1"/>
<text x="914.46" y="463.1" text-anchor="middle" font-size="8.4" fill="#1e1e1e">4</text>
<line x1="969.28" y1="452" x2="969.28" y2="455.7" stroke="#707070" stroke-width="1"/>
<text x="969.28" y="463.1" text-anchor="middle" font-size="8.4" fill="#1e1e1e">5</text>
<line x1="1024.10" y1="452" x2="1024.10" y2="455.7" stroke="#707070" stroke-width="1"/>
<text x="1024.10" y="463.1" text-anchor="middle" font-size="8.4" fill="#1e1e1e">6</text>
<text transform="translate(727.90,376.05) rotate(-90)" text-anchor="middle" font-size="8.25" fill="#1e1e1e">Cumulative Probability</text>
<text x="887" y="471.80" text-anchor="middle" font-size="8.1" fill="#1e1e1e">rank</text>
<rect x="835.2" y="479.3" width="103.90" height="38.40" fill="#fff" stroke="#707070" stroke-width="1"/>
<line x1="838.6" y1="486.8" x2="869.1" y2="486.8" stroke="#203F63" stroke-width="1.6" stroke-dasharray="9.3 2.55"/>
<text x="874.0" y="489.70" font-size="8.3" fill="#1e1e1e">1</text>
<line x1="890" y1="486.8" x2="921" y2="486.8" stroke="#8C3842" stroke-width="1.6" stroke-dasharray="9.3 2.55"/>
<text x="927.5" y="489.70" font-size="8.3" fill="#1e1e1e">2</text>
<line x1="838.6" y1="498.1" x2="869.1" y2="498.1" stroke="#566F33" stroke-width="1.6" stroke-dasharray="9.3 2.55"/>
<text x="874.0" y="501.00" font-size="8.3" fill="#1e1e1e">3</text>
<line x1="890" y1="498.1" x2="921" y2="498.1" stroke="#DE8B22" stroke-width="1.6" stroke-dasharray="9.3 2.55"/>
<text x="927.5" y="501.00" font-size="8.3" fill="#1e1e1e">6</text>
<line x1="838.6" y1="509.7" x2="869.1" y2="509.7" stroke="#77938B" stroke-width="1.6" stroke-dasharray="9.3 2.55"/>
<text x="874.0" y="512.61" font-size="8.3" fill="#1e1e1e">7</text>
<line x1="890" y1="509.7" x2="921" y2="509.7" stroke="#B5163F" stroke-width="1.6" stroke-dasharray="9.3 2.55"/>
<text x="927.5" y="512.61" font-size="8.3" fill="#1e1e1e">12</text>
<text transform="translate(723.78,514.8) scale(0.95,1)" font-size="31.8" fill="#000" style="stroke:#E8F0F2;stroke-width:0.5px">F</text>
<rect x="3" y="568.2" width="324.90" height="236.30" fill="#E8F0F2"/>
<rect x="34.7" y="575.8" width="285.30" height="152.40" fill="#fff"/>
<line x1="34.7" y1="723.10" x2="320" y2="723.10" stroke="#EEF3F5" stroke-width="0.9"/>
<line x1="34.7" y1="694.64" x2="320" y2="694.64" stroke="#EEF3F5" stroke-width="0.9"/>
<line x1="34.7" y1="666.18" x2="320" y2="666.18" stroke="#EEF3F5" stroke-width="0.9"/>
<line x1="34.7" y1="637.72" x2="320" y2="637.72" stroke="#EEF3F5" stroke-width="0.9"/>
<line x1="34.7" y1="609.26" x2="320" y2="609.26" stroke="#EEF3F5" stroke-width="0.9"/>
<line x1="34.7" y1="580.80" x2="320" y2="580.80" stroke="#EEF3F5" stroke-width="0.9"/>
<polyline points="40.10,723.10 108.62,720.25 177.15,702.32 245.67,653.80 314.20,580.80" fill="none" stroke="#203F63" stroke-width="2.0" stroke-dasharray="9.3 2.55" stroke-linejoin="round"/>
<polyline points="40.10,719.68 108.62,700.05 177.15,643.70 245.67,600.44 314.20,580.80" fill="none" stroke="#8C3842" stroke-width="2.0" stroke-dasharray="9.3 2.55" stroke-linejoin="round"/>
<polyline points="40.10,716.70 108.62,700.62 177.15,664.47 245.67,624.91 314.20,580.80" fill="none" stroke="#566F33" stroke-width="2.0" stroke-dasharray="9.3 2.55" stroke-linejoin="round"/>
<polyline points="40.10,671.73 108.62,624.34 177.15,597.59 245.67,586.07 314.20,580.80" fill="none" stroke="#DE8B22" stroke-width="2.0" stroke-dasharray="9.3 2.55" stroke-linejoin="round"/>
<polyline points="40.10,641.70 108.62,586.07 177.15,581.65 245.67,580.80 314.20,580.80" fill="none" stroke="#77938B" stroke-width="2.0" stroke-dasharray="9.3 2.55" stroke-linejoin="round"/>
<path d="M34.7,575.8 V728.2 H320" fill="none" stroke="#707070" stroke-width="1.1"/>
<line x1="31.000000000000004" y1="723.10" x2="34.7" y2="723.10" stroke="#707070" stroke-width="1"/>
<text transform="translate(27.30,723.10) rotate(-90)" text-anchor="middle" font-size="8.4" fill="#1e1e1e">0</text>
<line x1="31.000000000000004" y1="694.64" x2="34.7" y2="694.64" stroke="#707070" stroke-width="1"/>
<text transform="translate(27.30,694.64) rotate(-90)" text-anchor="middle" font-size="8.4" fill="#1e1e1e">.2</text>
<line x1="31.000000000000004" y1="666.18" x2="34.7" y2="666.18" stroke="#707070" stroke-width="1"/>
<text transform="translate(27.30,666.18) rotate(-90)" text-anchor="middle" font-size="8.4" fill="#1e1e1e">.4</text>
<line x1="31.000000000000004" y1="637.72" x2="34.7" y2="637.72" stroke="#707070" stroke-width="1"/>
<text transform="translate(27.30,637.72) rotate(-90)" text-anchor="middle" font-size="8.4" fill="#1e1e1e">.6</text>
<line x1="31.000000000000004" y1="609.26" x2="34.7" y2="609.26" stroke="#707070" stroke-width="1"/>
<text transform="translate(27.30,609.26) rotate(-90)" text-anchor="middle" font-size="8.4" fill="#1e1e1e">.8</text>
<line x1="31.000000000000004" y1="580.80" x2="34.7" y2="580.80" stroke="#707070" stroke-width="1"/>
<text transform="translate(27.30,580.80) rotate(-90)" text-anchor="middle" font-size="8.4" fill="#1e1e1e">1</text>
<line x1="40.10" y1="728.2" x2="40.10" y2="731.9000000000001" stroke="#707070" stroke-width="1"/>
<text x="40.10" y="738.9" text-anchor="middle" font-size="8.4" fill="#1e1e1e">1</text>
<line x1="108.62" y1="728.2" x2="108.62" y2="731.9000000000001" stroke="#707070" stroke-width="1"/>
<text x="108.62" y="738.9" text-anchor="middle" font-size="8.4" fill="#1e1e1e">2</text>
<line x1="177.15" y1="728.2" x2="177.15" y2="731.9000000000001" stroke="#707070" stroke-width="1"/>
<text x="177.15" y="738.9" text-anchor="middle" font-size="8.4" fill="#1e1e1e">3</text>
<line x1="245.67" y1="728.2" x2="245.67" y2="731.9000000000001" stroke="#707070" stroke-width="1"/>
<text x="245.67" y="738.9" text-anchor="middle" font-size="8.4" fill="#1e1e1e">4</text>
<line x1="314.20" y1="728.2" x2="314.20" y2="731.9000000000001" stroke="#707070" stroke-width="1"/>
<text x="314.20" y="738.9" text-anchor="middle" font-size="8.4" fill="#1e1e1e">5</text>
<text transform="translate(17.70,651.95) rotate(-90)" text-anchor="middle" font-size="8.25" fill="#1e1e1e">Cumulative Probability</text>
<text x="176.6" y="747.80" text-anchor="middle" font-size="8.1" fill="#1e1e1e">rank1</text>
<rect x="125.2" y="755.4" width="103.90" height="38.00" fill="#fff" stroke="#707070" stroke-width="1"/>
<line x1="128.6" y1="763.1" x2="159.1" y2="763.1" stroke="#203F63" stroke-width="1.6" stroke-dasharray="9.3 2.55"/>
<text x="164.0" y="766.00" font-size="8.3" fill="#1e1e1e">2</text>
<line x1="185.1" y1="763.1" x2="215.7" y2="763.1" stroke="#8C3842" stroke-width="1.6" stroke-dasharray="9.3 2.55"/>
<text x="220.0" y="766.00" font-size="8.3" fill="#1e1e1e">3</text>
<line x1="128.6" y1="774.2" x2="159.1" y2="774.2" stroke="#566F33" stroke-width="1.6" stroke-dasharray="9.3 2.55"/>
<text x="164.0" y="777.11" font-size="8.3" fill="#1e1e1e">5</text>
<line x1="185.1" y1="774.2" x2="215.7" y2="774.2" stroke="#DE8B22" stroke-width="1.6" stroke-dasharray="9.3 2.55"/>
<text x="220.0" y="777.11" font-size="8.3" fill="#1e1e1e">8</text>
<line x1="128.6" y1="785.9" x2="159.1" y2="785.9" stroke="#77938B" stroke-width="1.6" stroke-dasharray="9.3 2.55"/>
<text x="164.0" y="788.80" font-size="8.3" fill="#1e1e1e">12</text>
<text transform="translate(13.81,791.0) scale(1.0,1)" font-size="31.8" fill="#000" style="stroke:#E8F0F2;stroke-width:0.5px">G</text>
<rect x="357.4" y="568.2" width="325.30" height="236.40" fill="#E8F0F2"/>
<rect x="389.7" y="575.8" width="284.90" height="152.40" fill="#fff"/>
<line x1="389.7" y1="723.10" x2="674.6" y2="723.10" stroke="#EEF3F5" stroke-width="0.9"/>
<line x1="389.7" y1="694.64" x2="674.6" y2="694.64" stroke="#EEF3F5" stroke-width="0.9"/>
<line x1="389.7" y1="666.18" x2="674.6" y2="666.18" stroke="#EEF3F5" stroke-width="0.9"/>
<line x1="389.7" y1="637.72" x2="674.6" y2="637.72" stroke="#EEF3F5" stroke-width="0.9"/>
<line x1="389.7" y1="609.26" x2="674.6" y2="609.26" stroke="#EEF3F5" stroke-width="0.9"/>
<line x1="389.7" y1="580.80" x2="674.6" y2="580.80" stroke="#EEF3F5" stroke-width="0.9"/>
<polyline points="395.00,723.10 463.55,723.10 532.10,679.27 600.65,630.75 669.20,580.80" fill="none" stroke="#203F63" stroke-width="2.0" stroke-dasharray="9.3 2.55" stroke-linejoin="round"/>
<polyline points="395.00,723.10 463.55,723.10 532.10,700.05 600.65,649.53 669.20,580.80" fill="none" stroke="#8C3842" stroke-width="2.0" stroke-dasharray="9.3 2.55" stroke-linejoin="round"/>
<polyline points="395.00,723.10 463.55,723.10 532.10,646.54 600.65,603.28 669.20,580.80" fill="none" stroke="#566F33" stroke-width="2.0" stroke-dasharray="9.3 2.55" stroke-linejoin="round"/>
<polyline points="395.00,723.10 463.55,580.80 532.10,580.80 600.65,580.80 669.20,580.80" fill="none" stroke="#DE8B22" stroke-width="2.0" stroke-dasharray="9.3 2.55" stroke-linejoin="round"/>
<polyline points="395.00,580.80 463.55,580.80 532.10,580.80 600.65,580.80 669.20,580.80" fill="none" stroke="#77938B" stroke-width="2.0" stroke-dasharray="9.3 2.55" stroke-linejoin="round"/>
<path d="M389.7,575.8 V728.2 H674.6" fill="none" stroke="#707070" stroke-width="1.1"/>
<line x1="386.0" y1="723.10" x2="389.7" y2="723.10" stroke="#707070" stroke-width="1"/>
<text transform="translate(382.30,723.10) rotate(-90)" text-anchor="middle" font-size="8.4" fill="#1e1e1e">0</text>
<line x1="386.0" y1="694.64" x2="389.7" y2="694.64" stroke="#707070" stroke-width="1"/>
<text transform="translate(382.30,694.64) rotate(-90)" text-anchor="middle" font-size="8.4" fill="#1e1e1e">.2</text>
<line x1="386.0" y1="666.18" x2="389.7" y2="666.18" stroke="#707070" stroke-width="1"/>
<text transform="translate(382.30,666.18) rotate(-90)" text-anchor="middle" font-size="8.4" fill="#1e1e1e">.4</text>
<line x1="386.0" y1="637.72" x2="389.7" y2="637.72" stroke="#707070" stroke-width="1"/>
<text transform="translate(382.30,637.72) rotate(-90)" text-anchor="middle" font-size="8.4" fill="#1e1e1e">.6</text>
<line x1="386.0" y1="609.26" x2="389.7" y2="609.26" stroke="#707070" stroke-width="1"/>
<text transform="translate(382.30,609.26) rotate(-90)" text-anchor="middle" font-size="8.4" fill="#1e1e1e">.8</text>
<line x1="386.0" y1="580.80" x2="389.7" y2="580.80" stroke="#707070" stroke-width="1"/>
<text transform="translate(382.30,580.80) rotate(-90)" text-anchor="middle" font-size="8.4" fill="#1e1e1e">1</text>
<line x1="395.00" y1="728.2" x2="395.00" y2="731.9000000000001" stroke="#707070" stroke-width="1"/>
<text x="395.00" y="738.9" text-anchor="middle" font-size="8.4" fill="#1e1e1e">1</text>
<line x1="463.55" y1="728.2" x2="463.55" y2="731.9000000000001" stroke="#707070" stroke-width="1"/>
<text x="463.55" y="738.9" text-anchor="middle" font-size="8.4" fill="#1e1e1e">2</text>
<line x1="532.10" y1="728.2" x2="532.10" y2="731.9000000000001" stroke="#707070" stroke-width="1"/>
<text x="532.10" y="738.9" text-anchor="middle" font-size="8.4" fill="#1e1e1e">3</text>
<line x1="600.65" y1="728.2" x2="600.65" y2="731.9000000000001" stroke="#707070" stroke-width="1"/>
<text x="600.65" y="738.9" text-anchor="middle" font-size="8.4" fill="#1e1e1e">4</text>
<line x1="669.20" y1="728.2" x2="669.20" y2="731.9000000000001" stroke="#707070" stroke-width="1"/>
<text x="669.20" y="738.9" text-anchor="middle" font-size="8.4" fill="#1e1e1e">5</text>
<text transform="translate(372.70,651.95) rotate(-90)" text-anchor="middle" font-size="8.25" fill="#1e1e1e">Cumulative Probability</text>
<text x="531.8" y="747.90" text-anchor="middle" font-size="8.1" fill="#1e1e1e">rank</text>
<rect x="480.1" y="755.5" width="104.00" height="37.80" fill="#fff" stroke="#707070" stroke-width="1"/>
<line x1="483.5" y1="763" x2="514.1" y2="763" stroke="#203F63" stroke-width="1.6" stroke-dasharray="9.3 2.55"/>
<text x="519.5" y="765.90" font-size="8.3" fill="#1e1e1e">1</text>
<line x1="540" y1="763" x2="570.7" y2="763" stroke="#8C3842" stroke-width="1.6" stroke-dasharray="9.3 2.55"/>
<text x="575.5" y="765.90" font-size="8.3" fill="#1e1e1e">2</text>
<line x1="483.5" y1="774.3" x2="514.1" y2="774.3" stroke="#566F33" stroke-width="1.6" stroke-dasharray="9.3 2.55"/>
<text x="519.5" y="777.20" font-size="8.3" fill="#1e1e1e">7</text>
<line x1="540" y1="774.3" x2="570.7" y2="774.3" stroke="#DE8B22" stroke-width="1.6" stroke-dasharray="9.3 2.55"/>
<text x="575.5" y="777.20" font-size="8.3" fill="#1e1e1e">8</text>
<line x1="483.5" y1="785.9" x2="514.1" y2="785.9" stroke="#77938B" stroke-width="1.6" stroke-dasharray="9.3 2.55"/>
<text x="519.5" y="788.80" font-size="8.3" fill="#1e1e1e">12</text>
<text transform="translate(368.55,791.2) scale(1.04,1)" font-size="31.8" fill="#000" style="stroke:#E8F0F2;stroke-width:0.5px">H</text>
<rect x="712.5" y="568.2" width="325.10" height="236.30" fill="#E8F0F2"/>
<rect x="744.7" y="576" width="284.70" height="164.10" fill="#fff"/>
<line x1="744.7" y1="734.80" x2="1029.4" y2="734.80" stroke="#EEF3F5" stroke-width="0.9"/>
<line x1="744.7" y1="704.00" x2="1029.4" y2="704.00" stroke="#EEF3F5" stroke-width="0.9"/>
<line x1="744.7" y1="673.20" x2="1029.4" y2="673.20" stroke="#EEF3F5" stroke-width="0.9"/>
<line x1="744.7" y1="642.40" x2="1029.4" y2="642.40" stroke="#EEF3F5" stroke-width="0.9"/>
<line x1="744.7" y1="611.60" x2="1029.4" y2="611.60" stroke="#EEF3F5" stroke-width="0.9"/>
<line x1="744.7" y1="580.80" x2="1029.4" y2="580.80" stroke="#EEF3F5" stroke-width="0.9"/>
<polyline points="750.10,622.07 841.43,586.04 932.77,581.11 1024.10,580.80" fill="none" stroke="#203F63" stroke-width="2.0" stroke-dasharray="9.3 2.55" stroke-linejoin="round"/>
<polyline points="750.10,696.61 841.43,595.58 932.77,580.80 1024.10,580.80" fill="none" stroke="#8C3842" stroke-width="2.0" stroke-dasharray="9.3 2.55" stroke-linejoin="round"/>
<polyline points="750.10,731.26 841.43,714.63 932.77,607.13 1024.10,580.80" fill="none" stroke="#566F33" stroke-width="2.0" stroke-dasharray="9.3 2.55" stroke-linejoin="round"/>
<polyline points="750.10,734.80 841.43,734.80 932.77,708.00 1024.10,580.80" fill="none" stroke="#DE8B22" stroke-width="2.0" stroke-dasharray="9.3 2.55" stroke-linejoin="round"/>
<path d="M744.7,576 V740.1 H1029.4" fill="none" stroke="#707070" stroke-width="1.1"/>
<line x1="741.0" y1="734.80" x2="744.7" y2="734.80" stroke="#707070" stroke-width="1"/>
<text transform="translate(737.30,734.80) rotate(-90)" text-anchor="middle" font-size="8.4" fill="#1e1e1e">0</text>
<line x1="741.0" y1="704.00" x2="744.7" y2="704.00" stroke="#707070" stroke-width="1"/>
<text transform="translate(737.30,704.00) rotate(-90)" text-anchor="middle" font-size="8.4" fill="#1e1e1e">.2</text>
<line x1="741.0" y1="673.20" x2="744.7" y2="673.20" stroke="#707070" stroke-width="1"/>
<text transform="translate(737.30,673.20) rotate(-90)" text-anchor="middle" font-size="8.4" fill="#1e1e1e">.4</text>
<line x1="741.0" y1="642.40" x2="744.7" y2="642.40" stroke="#707070" stroke-width="1"/>
<text transform="translate(737.30,642.40) rotate(-90)" text-anchor="middle" font-size="8.4" fill="#1e1e1e">.6</text>
<line x1="741.0" y1="611.60" x2="744.7" y2="611.60" stroke="#707070" stroke-width="1"/>
<text transform="translate(737.30,611.60) rotate(-90)" text-anchor="middle" font-size="8.4" fill="#1e1e1e">.8</text>
<line x1="741.0" y1="580.80" x2="744.7" y2="580.80" stroke="#707070" stroke-width="1"/>
<text transform="translate(737.30,580.80) rotate(-90)" text-anchor="middle" font-size="8.4" fill="#1e1e1e">1</text>
<line x1="750.10" y1="740.1" x2="750.10" y2="743.8000000000001" stroke="#707070" stroke-width="1"/>
<text x="750.10" y="750.5" text-anchor="middle" font-size="8.4" fill="#1e1e1e">1</text>
<line x1="841.43" y1="740.1" x2="841.43" y2="743.8000000000001" stroke="#707070" stroke-width="1"/>
<text x="841.43" y="750.5" text-anchor="middle" font-size="8.4" fill="#1e1e1e">2</text>
<line x1="932.77" y1="740.1" x2="932.77" y2="743.8000000000001" stroke="#707070" stroke-width="1"/>
<text x="932.77" y="750.5" text-anchor="middle" font-size="8.4" fill="#1e1e1e">3</text>
<line x1="1024.10" y1="740.1" x2="1024.10" y2="743.8000000000001" stroke="#707070" stroke-width="1"/>
<text x="1024.10" y="750.5" text-anchor="middle" font-size="8.4" fill="#1e1e1e">4</text>
<text transform="translate(727.90,657.80) rotate(-90)" text-anchor="middle" font-size="8.25" fill="#1e1e1e">Cumulative Probability</text>
<text x="887" y="759.10" text-anchor="middle" font-size="8.1" fill="#1e1e1e">rank</text>
<rect x="835.2" y="766.1" width="103.90" height="27.20" fill="#fff" stroke="#707070" stroke-width="1"/>
<line x1="838.6" y1="773.7" x2="869.1" y2="773.7" stroke="#203F63" stroke-width="1.6" stroke-dasharray="9.3 2.55"/>
<text x="874.0" y="776.61" font-size="8.3" fill="#1e1e1e">1</text>
<line x1="890" y1="773.7" x2="921" y2="773.7" stroke="#8C3842" stroke-width="1.6" stroke-dasharray="9.3 2.55"/>
<text x="928.0" y="776.61" font-size="8.3" fill="#1e1e1e">2</text>
<line x1="838.6" y1="785.5" x2="869.1" y2="785.5" stroke="#566F33" stroke-width="1.6" stroke-dasharray="9.3 2.55"/>
<text x="874.0" y="788.40" font-size="8.3" fill="#1e1e1e">3</text>
<line x1="890" y1="785.5" x2="921" y2="785.5" stroke="#DE8B22" stroke-width="1.6" stroke-dasharray="9.3 2.55"/>
<text x="928.0" y="788.40" font-size="8.3" fill="#1e1e1e">12</text>
<text transform="translate(723.94,790.5) scale(1.0,1)" font-size="31.8" fill="#000" style="stroke:#E8F0F2;stroke-width:0.5px">I</text>
</svg>
</body></html>
